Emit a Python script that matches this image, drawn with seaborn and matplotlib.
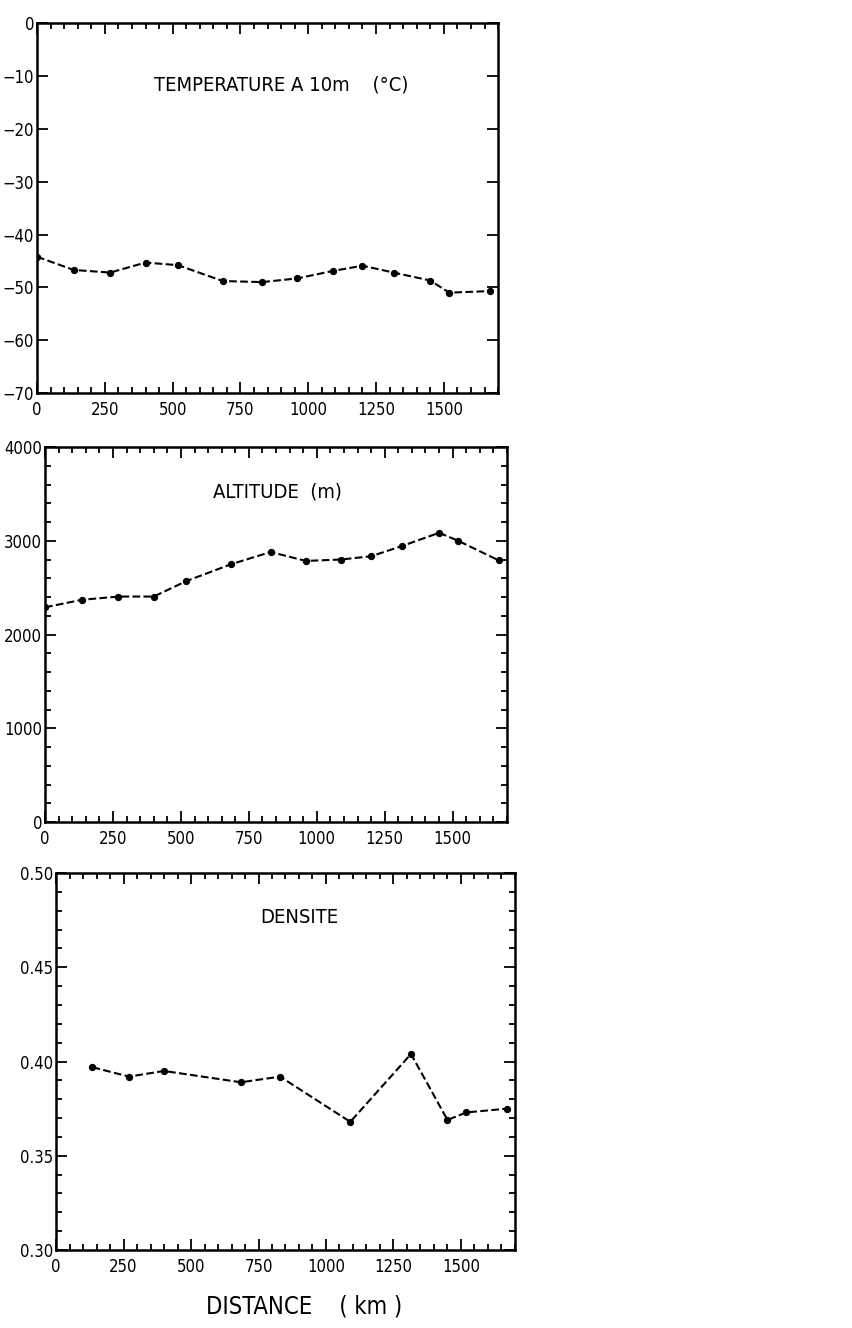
import matplotlib

matplotlib.use('Agg')

import pandas as pd
import seaborn as sns
import matplotlib.pyplot as plt
from matplotlib.ticker import MultipleLocator, FormatStrFormatter

# stations along the traverse (km)
distance_km = [0, 135, 270, 400, 520, 685, 830, 960, 1090, 1200, 1315, 1450, 1520, 1670]
temperature_10m = [-44.2, -46.7, -47.2, -45.3, -45.8, -48.8, -49.0, -48.3, -46.9, -45.9,
                   -47.2, -48.7, -51.0, -50.7]
altitude_m = [2290, 2370, 2405, 2405, 2570, 2750, 2880, 2785, 2800, 2835, 2945, 3085, 3000, 2790]

# density is missing at a few stations
density_km = [135, 270, 400, 685, 830, 1090, 1315, 1450, 1520, 1670]
density = [0.397, 0.392, 0.395, 0.389, 0.392, 0.368, 0.404, 0.369, 0.373, 0.375]

x_ticks = [0, 250, 500, 750, 1000, 1250, 1500]

sns.set_style('ticks')
plt.rcParams['font.family'] = ['DejaVu Sans']
plt.rcParams['font.stretch'] = 'condensed'
for key in ('text.color', 'axes.edgecolor', 'xtick.color', 'ytick.color', 'axes.labelcolor'):
    plt.rcParams[key] = 'black'

fig = plt.figure(figsize=(8.53, 13.28), dpi=100)

ax_t = fig.add_axes([0.0434, 0.704, 0.5405, 0.2786])
ax_a = fig.add_axes([0.0528, 0.381, 0.5416, 0.2824])
ax_d = fig.add_axes([0.0657, 0.0587, 0.538, 0.2839])

df_main = pd.DataFrame({'km': distance_km, 'temp': temperature_10m, 'alt': altitude_m})
df_dens = pd.DataFrame({'km': density_km, 'dens': density})

line_kw = dict(color='black', linestyle='--', linewidth=1.5, marker='o', markersize=4.5,
               markeredgecolor='black')

sns.lineplot(data=df_main, x='km', y='temp', ax=ax_t, **line_kw)
sns.lineplot(data=df_main, x='km', y='alt', ax=ax_a, **line_kw)
sns.lineplot(data=df_dens, x='km', y='dens', ax=ax_d, **line_kw)

ax_t.set_ylim(-70, 0)
ax_t.yaxis.set_major_locator(MultipleLocator(10))
ax_a.set_ylim(0, 4000)
ax_a.yaxis.set_major_locator(MultipleLocator(1000))
ax_a.yaxis.set_minor_locator(MultipleLocator(200))
ax_d.set_ylim(0.30, 0.50)
ax_d.yaxis.set_major_locator(MultipleLocator(0.05))
ax_d.yaxis.set_minor_locator(MultipleLocator(0.01))
ax_d.yaxis.set_major_formatter(FormatStrFormatter('%.2f'))

for ax in (ax_t, ax_a, ax_d):
    ax.set_xlim(0, 1700)
    ax.set_xticks(x_ticks)
    ax.xaxis.set_minor_locator(MultipleLocator(50))
    ax.set_xlabel('')
    ax.set_ylabel('')
    ax.tick_params(which='both', direction='in', top=True, right=True, labelsize=12,
                   width=1.3, pad=2)
    ax.tick_params(which='major', length=8)
    ax.tick_params(which='minor', length=4)
    ax.tick_params(axis='x', pad=6)
    for s in ax.spines.values():
        s.set_linewidth(1.8)
        s.set_visible(True)

ax_t.text(0.53, 0.832, 'TEMPERATURE A 10m    (°C)', transform=ax_t.transAxes,
          ha='center', va='center', fontsize=14.5)
ax_a.text(0.504, 0.88, 'ALTITUDE  (m)', transform=ax_a.transAxes,
          ha='center', va='center', fontsize=14.5)
ax_d.text(0.53, 0.883, 'DENSITE', transform=ax_d.transAxes,
          ha='center', va='center', fontsize=14.5)
fig.text(0.357, 0.016, 'DISTANCE    ( km )', ha='center', va='center', fontsize=17)

fig.savefig('out.png', dpi=100)
